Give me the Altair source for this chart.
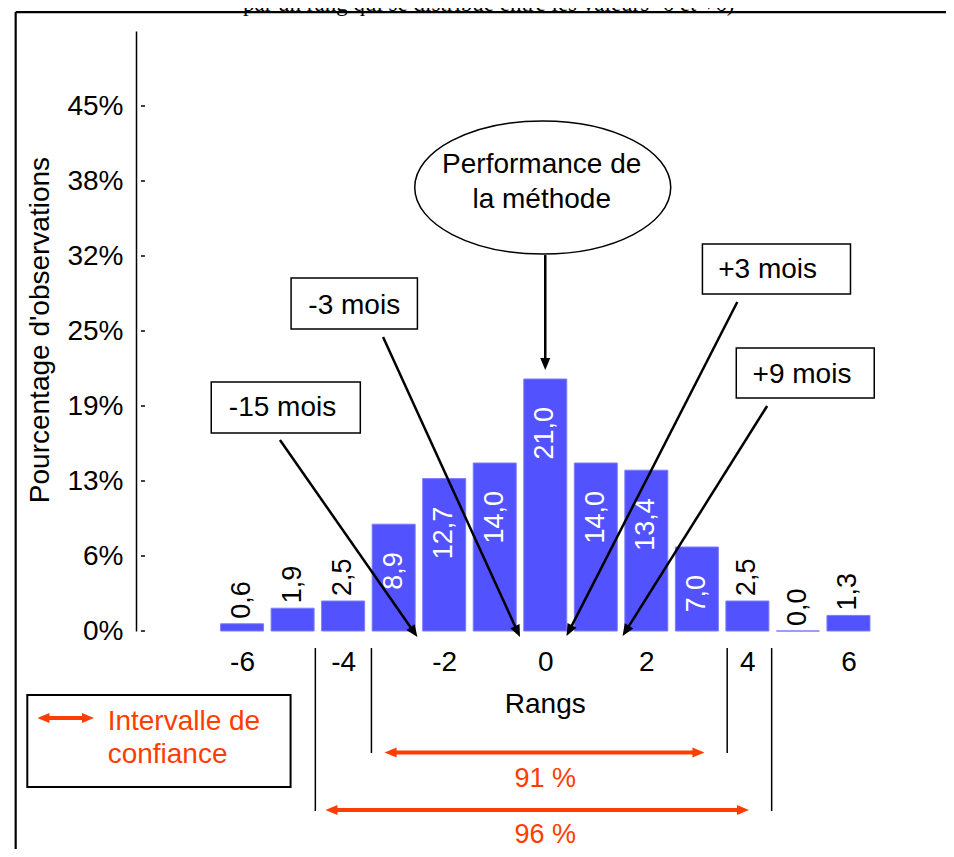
import math
import altair as alt
import pandas as pd

# ---------------- data ----------------
ranks = [-6, -5, -4, -3, -2, -1, 0, 1, 2, 3, 4, 5, 6]
pct = [0.6, 1.9, 2.5, 8.9, 12.7, 14.0, 21.0, 14.0, 13.4, 7.0, 2.5, 0.0, 1.3]

x_tick_values = [-6, -4, -2, 0, 2, 4, 6]
y_tick_values = [0, 6.25, 12.5, 18.75, 25, 31.25, 37.5, 43.75]
y_tick_labels = ["0%", "6%", "13%", "19%", "25%", "32%", "38%", "45%"]

title_text = "par un rang qui se distribue entre les valeurs -6 et +6)"
y_title = "Pourcentage d'observations"
x_title = "Rangs"

box_text = ["-15 mois", "-3 mois", "+3 mois", "+9 mois"]
ellipse_lines = ["Performance de", "la méthode"]
ci_text = ["91 %", "96 %"]
legend_lines = ["Intervalle de", "confiance"]

# ---------------- annotation placement (data units) ----------------
box_x1 = [-6.61, -5.03, 3.11, 3.78]
box_x2 = [-3.66, -2.53, 6.04, 6.51]
box_y1 = [20.75, 29.42, 32.25, 23.58]
box_y2 = [16.5, 25.17, 28.08, 19.42]
box_tx = [-5.2, -3.78, 4.40, 5.08]
box_ty = [18.6, 27.1, 30.1, 21.35]

arr_x1 = [-5.25, -3.21, 3.80, 4.39, 0.0]
arr_y1 = [15.92, 24.5, 27.42, 18.75, 31.33]
arr_x2 = [-2.53, -0.50, 0.42, 1.53, 0.0]
arr_y2 = [-0.5, -0.5, -0.42, -0.42, 21.75]

ell_x, ell_y = -0.05, 36.96
ell_tx = [-0.07, -0.07]
ell_ty = [38.83, 35.92]

ci_x1 = [-3.18, -4.35]
ci_x2 = [3.15, 4.03]
ci_y = [-10.12, -14.92]
ci_ty = [-12.33, -17.0]

v_x = [-4.55, -3.44, 3.60, 4.48]
v_y1 = [-1.42, -1.42, -1.42, -1.42]
v_y2 = [-15.0, -10.17, -10.17, -15.0]

leg_x1, leg_x2, leg_y1, leg_y2 = -10.25, -5.04, -5.33, -13.0
leg_ax1, leg_ax2, leg_ay = -10.05, -8.93, -7.25
leg_tx = [-8.66, -8.66]
leg_ty = [-7.58, -10.33]

frame_x, frame_y = -10.48, 51.58
ytitle_x, ytitle_y = -9.98, 25.08
xtitle_x, xtitle_y = 0.0, -6.17
title_x, title_y = -1.12, 51.68

# ---------------- style ----------------
FONT = "Liberation Sans"
BLUE = "#5252ff"
RED = "#ff3d00"
PX_X = 51.2   # pixels per rank unit
PX_Y = 12.0   # pixels per percent unit

xs = alt.Scale(domain=[-8, 7], nice=False, zero=False)
ys = alt.Scale(domain=[0, 50], nice=False, zero=False)

labels_js = "[" + ",".join(f"'{l}'" for l in y_tick_labels) + "]"
values_js = "[" + ",".join(str(v) for v in y_tick_values) + "]"

AX_X = alt.Axis(values=x_tick_values, labelExpr="'' + datum.value", title=None, ticks=False,
                tickSize=0, domain=False, grid=False, labelFontSize=28, labelPadding=17,
                labelFont=FONT, labelColor="black")
AX_Y = alt.Axis(values=y_tick_values, labelExpr=f"{labels_js}[indexof({values_js}, datum.value)]",
                title=None, ticks=False, tickSize=0, domain=True, domainColor="black",
                domainWidth=1.5, grid=False, labelFontSize=28, labelPadding=13,
                labelFont=FONT, labelColor="black")

ARROW = "M0,0L-0.42,-1L0.42,-1Z"
ELLIPSE = "M-1,0A1,0.52 0 1,1 1,0A1,0.52 0 1,1 -1,0Z"


def ang(x1, y1, x2, y2):
    dx = (x2 - x1) * PX_X
    dy = -(y2 - y1) * PX_Y
    return (math.degrees(math.atan2(-dx, dy)) + 360) % 360


def shorten(x1, y1, x2, y2, d):
    dx = (x2 - x1) * PX_X
    dy = (y2 - y1) * PX_Y
    L = math.hypot(dx, dy)
    f = (L - d) / L
    return x1 + (x2 - x1) * f, y1 + (y2 - y1) * f


def X(field="x"):
    return alt.X(f"{field}:Q", scale=xs, axis=AX_X)


def Y(field="y"):
    return alt.Y(f"{field}:Q", scale=ys, axis=AX_Y)


df_bars = pd.DataFrame({"x": ranks, "y": pct})

bars = alt.Chart(df_bars).mark_bar(size=43, color=BLUE, stroke="#7c7cff", strokeWidth=1).encode(
    x=X(), y=Y())

lab_expr = "replace(format(datum.y, '.1f'), '.', ',')"
inside = alt.Chart(df_bars).transform_filter("datum.y >= 7").transform_calculate(
    lab=lab_expr).mark_text(angle=270, align="right", baseline="middle", dx=-28,
                            fontSize=27, color="white", font=FONT).encode(
    x=X(), y=Y(), text="lab:N")
outside = alt.Chart(df_bars).transform_filter("datum.y < 7").transform_calculate(
    lab=lab_expr).mark_text(angle=270, align="left", baseline="middle", dx=5,
                            fontSize=27, color="black", font=FONT).encode(
    x=X(), y=Y(), text="lab:N")

# y ticks (inward)
df_yt = pd.DataFrame({"y": y_tick_values, "x": [-8] * len(y_tick_values),
                      "x2": [-8 + 4 / PX_X] * len(y_tick_values)})
yticks = alt.Chart(df_yt).mark_rule(color="black", strokeWidth=1.5).encode(
    x=X(), x2="x2:Q", y=Y())

# frame
df_frame = pd.DataFrame({"x": [frame_x, frame_x], "x2": [12, frame_x],
                         "y": [frame_y, frame_y], "y2": [frame_y, -40]})
frame = alt.Chart(df_frame).mark_rule(color="black", strokeWidth=2.2).encode(
    x=X(), x2="x2:Q", y=Y(), y2="y2:Q")

# boxes
df_box = pd.DataFrame({"x": box_x1, "x2": box_x2, "y": box_y1, "y2": box_y2,
                       "tx": box_tx, "ty": box_ty, "t": box_text})
boxes = alt.Chart(df_box).mark_rect(fill="white", stroke="black", strokeWidth=1.5).encode(
    x=X(), x2="x2:Q", y=Y(), y2="y2:Q")
box_lab = alt.Chart(df_box).mark_text(fontSize=28, font=FONT, color="black",
                                      align="center", baseline="middle").encode(
    x=X("tx"), y=Y("ty"), text="t:N")

# ellipse
df_ell = pd.DataFrame({"x": [ell_x], "y": [ell_y]})
ellipse = alt.Chart(df_ell).mark_point(shape=ELLIPSE, size=256 * 256, filled=False,
                                       color="black", strokeWidth=1.5, opacity=1).encode(
    x=X(), y=Y())
df_ellt = pd.DataFrame({"x": ell_tx, "y": ell_ty, "t": ellipse_lines})
ell_lab = alt.Chart(df_ellt).mark_text(fontSize=28, font=FONT, color="black",
                                       align="center", baseline="middle").encode(
    x=X(), y=Y(), text="t:N")

# black arrows
sx, sy = [], []
for a, b, c, d in zip(arr_x1, arr_y1, arr_x2, arr_y2):
    ex, ey = shorten(a, b, c, d, 8)
    sx.append(ex)
    sy.append(ey)
df_arr = pd.DataFrame({"x": arr_x1, "y": arr_y1, "x2": sx, "y2": sy,
                       "hx": arr_x2, "hy": arr_y2,
                       "ang": [ang(a, b, c, d) for a, b, c, d in zip(arr_x1, arr_y1, arr_x2, arr_y2)]})
arr_lines = alt.Chart(df_arr).mark_rule(color="black", strokeWidth=2.5).encode(
    x=X(), y=Y(), x2="x2:Q", y2="y2:Q")
arr_heads = alt.Chart(df_arr).mark_point(shape=ARROW, size=576, filled=True, color="black",
                                         opacity=1, strokeWidth=0).encode(
    x=X("hx"), y=Y("hy"), angle=alt.Angle("ang:Q", scale=None))

# confidence interval lines
df_v = pd.DataFrame({"x": v_x, "y": v_y1, "y2": v_y2})
vlines = alt.Chart(df_v).mark_rule(color="black", strokeWidth=1.5).encode(
    x=X(), y=Y(), y2="y2:Q")

red_x1 = ci_x1 + [leg_ax1]
red_x2 = ci_x2 + [leg_ax2]
red_y = ci_y + [leg_ay]
rl_x1, rl_x2 = [], []
for a, b, c in zip(red_x1, red_x2, red_y):
    rl_x1.append(shorten(b, c, a, c, 7)[0])
    rl_x2.append(shorten(a, c, b, c, 7)[0])
df_red = pd.DataFrame({"x": rl_x1, "x2": rl_x2, "y": red_y})
red_lines = alt.Chart(df_red).mark_rule(color=RED, strokeWidth=4).encode(
    x=X(), x2="x2:Q", y=Y())
df_rh = pd.DataFrame({"x": red_x1 + red_x2, "y": red_y + red_y,
                      "ang": [90.0] * len(red_x1) + [270.0] * len(red_x2)})
red_heads = alt.Chart(df_rh).mark_point(shape=ARROW, size=576, filled=True, color=RED,
                                        opacity=1, strokeWidth=0).encode(
    x=X(), y=Y(), angle=alt.Angle("ang:Q", scale=None))
df_cit = pd.DataFrame({"x": [0.0, 0.0], "y": ci_ty, "t": ci_text})
ci_lab = alt.Chart(df_cit).mark_text(fontSize=27, font=FONT, color=RED, align="center",
                                     baseline="middle").encode(x=X(), y=Y(), text="t:N")

# legend box
df_leg = pd.DataFrame({"x": [leg_x1], "x2": [leg_x2], "y": [leg_y1], "y2": [leg_y2]})
leg_box = alt.Chart(df_leg).mark_rect(fill="white", stroke="black", strokeWidth=2).encode(
    x=X(), x2="x2:Q", y=Y(), y2="y2:Q")
df_legt = pd.DataFrame({"x": leg_tx, "y": leg_ty, "t": legend_lines})
leg_lab = alt.Chart(df_legt).mark_text(fontSize=28, font=FONT, color=RED, align="left",
                                       baseline="middle").encode(x=X(), y=Y(), text="t:N")

# titles
df_tt = pd.DataFrame({"x": [ytitle_x], "y": [ytitle_y], "t": [y_title]})
ytitle = alt.Chart(df_tt).mark_text(fontSize=28, font=FONT, color="black", angle=270,
                                    align="center", baseline="middle").encode(
    x=X(), y=Y(), text="t:N")
df_xt = pd.DataFrame({"x": [xtitle_x], "y": [xtitle_y], "t": [x_title]})
xtitle = alt.Chart(df_xt).mark_text(fontSize=28, font=FONT, color="black",
                                    align="center", baseline="middle").encode(
    x=X(), y=Y(), text="t:N")
df_top = pd.DataFrame({"x": [title_x], "y": [title_y], "t": [title_text]})
toptitle = alt.Chart(df_top).mark_text(fontSize=23, font="Liberation Serif", color="black",
                                       align="center", baseline="alphabetic").encode(
    x=X(), y=Y(), text="t:N")

chart = alt.layer(
    bars, frame, toptitle, yticks, inside, outside,
    vlines, leg_box, leg_lab, red_lines, red_heads, ci_lab,
    ellipse, ell_lab, boxes, box_lab, arr_lines, arr_heads,
    ytitle, xtitle,
).properties(
    width=768, height=600,
    padding={"left": 128, "top": 23, "right": 42, "bottom": 218},
    autosize=alt.AutoSizeParams(type="none"),
    background="white",
).configure_view(stroke=None)

chart.save("out.html", embed_options={"renderer": "svg", "actions": False})
